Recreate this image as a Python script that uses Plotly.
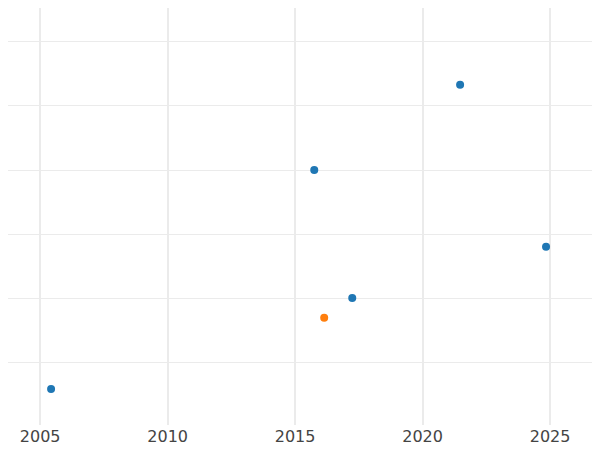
import plotly.graph_objects as go

years_a = [2005.43, 2015.75, 2021.47, 2024.84, 2017.24]
vals_a = [0.58, 4.0, 5.33, 2.8, 2.0]
years_b = [2016.14]
vals_b = [1.69]

fig = go.Figure()
fig.add_trace(go.Scatter(x=years_a, y=vals_a, mode="markers",
                         marker=dict(color="#1f77b4", size=8)))
fig.add_trace(go.Scatter(x=years_b, y=vals_b, mode="markers",
                         marker=dict(color="#ff7f0e", size=8)))
fig.update_layout(width=600, height=450, showlegend=False,
                  plot_bgcolor="white", paper_bgcolor="white",
                  margin=dict(l=0, r=0, t=0, b=33),
                  font=dict(family="DejaVu Sans", size=16, color="#444"))
fig.update_xaxes(range=[2003.74, 2027.27], tickvals=[2005, 2010, 2015, 2020, 2025],
                 showgrid=True, gridcolor="#ebebeb", gridwidth=1.5, zeroline=False)
fig.update_yaxes(range=[0.016, 6.531], dtick=1, showticklabels=False,
                 showgrid=True, gridcolor="#ebebeb", gridwidth=1, zeroline=False)
fig.write_html("out.html")
